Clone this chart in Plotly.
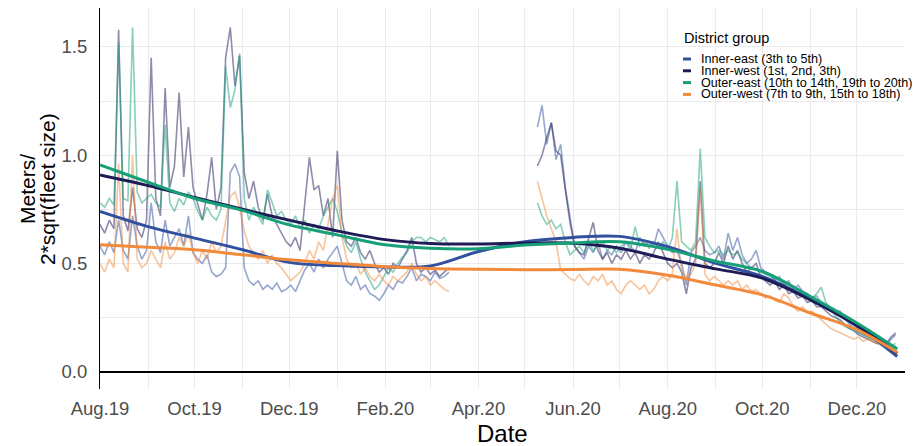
import pandas as pd
import plotly.graph_objects as go


GROUPS = [
    "Inner-east (3th to 5th)",
    "Inner-west (1st, 2nd, 3th)",
    "Outer-east (10th to 14th, 19th to 20th)",
    "Outer-west (7th to 9th, 15th to 18th)",
]
COLORS = ["#31519F", "#1E1B57", "#17A078", "#F28A3C"]

# Daily series, read off every third day. Two stretches: before and after
# the spring 2020 lockdown (no data in between).
PRE_START = "2019-08-01"
POST_START = "2020-05-09"

INNER_EAST_PRE = [
    0.58, 0.54, 0.60, 0.55, 0.70, 0.56, 0.52, 0.72, 0.58, 0.52,
    0.56, 0.78, 0.60, 0.55, 0.70, 0.58, 0.62, 0.66, 0.58, 0.72,
    0.55, 0.52, 0.50, 0.54, 0.46, 0.44, 0.45, 0.48, 0.92, 0.96,
    0.90, 0.48, 0.42, 0.40, 0.42, 0.38, 0.40, 0.38, 0.41, 0.37,
    0.38, 0.40, 0.37, 0.42, 0.47, 0.50, 0.46, 0.52, 0.48, 0.52,
    0.55, 0.58, 0.50, 0.42, 0.40, 0.44, 0.38, 0.40, 0.36, 0.35,
    0.33, 0.36, 0.40, 0.38, 0.42, 0.41, 0.44, 0.48, 0.42, 0.45,
    0.44, 0.42, 0.46, 0.43, 0.44, 0.46,
]
INNER_WEST_PRE = [
    0.68, 0.64, 0.70, 0.66, 1.58, 0.72, 0.65, 0.85, 0.66, 0.62,
    0.70, 1.45, 0.80, 0.72, 1.31, 0.85, 0.95, 1.29, 0.90, 1.13,
    0.85, 0.78, 0.70, 0.82, 0.99, 0.75, 0.85, 1.45, 1.59, 1.32,
    1.46, 0.92, 0.80, 0.88, 0.76, 0.70, 0.82, 0.72, 0.68, 0.64,
    0.60, 0.58, 0.62, 0.56, 0.78, 0.99, 0.84, 0.86, 0.72, 0.80,
    0.62, 1.02, 0.70, 0.60, 0.58, 0.62, 0.55, 0.52, 0.56, 0.50,
    0.46, 0.48, 0.45, 0.50, 0.48, 0.52, 0.56, 0.62, 0.50, 0.46,
    0.48, 0.45, 0.47, 0.44, 0.46, 0.48,
]
OUTER_EAST_PRE = [
    0.78, 0.76, 0.80, 0.77, 1.52, 0.80, 0.79, 1.59, 0.83, 0.78,
    0.80, 0.82, 0.78, 0.76, 1.14, 0.78, 0.74, 0.80, 0.77, 0.83,
    0.80, 0.74, 0.70, 0.76, 0.72, 0.70, 0.75, 1.41, 1.22, 1.30,
    1.47, 0.80, 0.70, 0.76, 0.72, 0.68, 0.84, 0.78, 0.72, 0.74,
    0.70, 0.68, 0.72, 0.66, 0.70, 0.64, 0.68, 0.66, 0.72, 0.76,
    0.80, 0.74, 0.64, 0.58, 0.55, 0.60, 0.52, 0.46, 0.42, 0.38,
    0.40, 0.44, 0.48, 0.46, 0.50, 0.53, 0.55, 0.60, 0.62, 0.62,
    0.60, 0.62, 0.61, 0.60, 0.62, 0.58,
]
OUTER_WEST_PRE = [
    0.50, 0.46, 0.52, 0.48, 0.96, 0.50, 0.46, 1.00, 0.52, 0.48,
    0.50, 0.56, 0.52, 0.48, 0.60, 0.52, 0.55, 0.62, 0.58, 0.64,
    0.55, 0.50, 0.56, 0.52, 0.60, 0.55, 0.58, 0.70, 0.81, 0.83,
    0.76, 0.65, 0.58, 0.55, 0.52, 0.56, 0.50, 0.54, 0.50, 0.48,
    0.45, 0.42, 0.44, 0.46, 0.50, 0.56, 0.52, 0.60, 0.56, 0.68,
    0.80, 0.86, 0.62, 0.52, 0.48, 0.50, 0.45, 0.48, 0.44, 0.42,
    0.45, 0.42, 0.40, 0.44, 0.42, 0.44, 0.46, 0.50, 0.45, 0.42,
    0.44, 0.40, 0.42, 0.40, 0.38, 0.37,
]

INNER_EAST_POST = [
    1.13, 1.23, 1.05, 1.15, 0.98, 1.05, 0.85, 0.72, 0.58, 0.55,
    0.52, 0.58, 0.55, 0.60, 0.52, 0.56, 0.54, 0.58, 0.55, 0.60,
    0.58, 0.55, 0.62, 0.58, 0.60, 0.58, 0.66, 0.62, 0.58, 0.55,
    0.56, 0.50, 0.40, 0.55, 0.58, 0.62, 0.56, 0.54, 0.55, 0.58,
    0.52, 0.64, 0.56, 0.62, 0.54, 0.50, 0.52, 0.56, 0.48, 0.46,
    0.45, 0.42, 0.44, 0.40, 0.42, 0.38, 0.40, 0.37, 0.36, 0.34,
    0.35, 0.32, 0.30, 0.28, 0.27, 0.28, 0.25, 0.22, 0.20, 0.18,
    0.17, 0.16, 0.15, 0.14, 0.13, 0.12, 0.15, 0.17,
]
INNER_WEST_POST = [
    0.95, 1.00, 1.08, 1.15, 1.02, 1.00, 0.84, 0.69, 0.58, 0.55,
    0.54, 0.62, 0.69, 0.56, 0.52, 0.55, 0.50, 0.54, 0.52, 0.56,
    0.52, 0.55, 0.50, 0.54, 0.52, 0.55, 0.60, 0.55, 0.50, 0.48,
    0.50, 0.46, 0.36, 0.48, 0.52, 0.88, 0.50, 0.48, 0.50, 0.55,
    0.50, 0.58, 0.52, 0.56, 0.50, 0.46, 0.48, 0.50, 0.44, 0.42,
    0.40, 0.42, 0.38, 0.40, 0.36, 0.37, 0.34, 0.35, 0.32, 0.33,
    0.30, 0.30, 0.28, 0.26, 0.25, 0.24, 0.22, 0.20, 0.19, 0.17,
    0.16, 0.15, 0.14, 0.13, 0.14, 0.13, 0.16, 0.18,
]
OUTER_EAST_POST = [
    0.78, 0.72, 0.68, 0.70, 0.66, 0.68, 0.60, 0.54, 0.56, 0.58,
    0.55, 0.60, 0.56, 0.58, 0.60, 0.56, 0.58, 0.55, 0.58, 0.60,
    0.56, 0.67, 0.58, 0.60, 0.57, 0.60, 0.58, 0.60, 0.56, 0.62,
    0.88, 0.60, 0.58, 0.56, 0.60, 1.03, 0.62, 0.58, 0.55, 0.56,
    0.54, 0.56, 0.54, 0.55, 0.52, 0.50, 0.48, 0.47, 0.46, 0.45,
    0.44, 0.43, 0.42, 0.40, 0.38, 0.37, 0.36, 0.37, 0.35, 0.34,
    0.36, 0.39, 0.32, 0.29, 0.26, 0.23, 0.21, 0.20, 0.19, 0.18,
    0.17, 0.16, 0.15, 0.15, 0.14, 0.13, 0.12, 0.13,
]
OUTER_WEST_POST = [
    0.88, 0.80, 0.72, 0.66, 0.60, 0.47, 0.45, 0.43, 0.42, 0.45,
    0.42, 0.40, 0.44, 0.42, 0.45, 0.40, 0.42, 0.38, 0.36, 0.40,
    0.42, 0.40, 0.38, 0.40, 0.36, 0.38, 0.42, 0.44, 0.42, 0.45,
    0.66, 0.46, 0.44, 0.45, 0.50, 0.84, 0.45, 0.42, 0.44, 0.42,
    0.40, 0.42, 0.40, 0.42, 0.38, 0.40, 0.37, 0.38, 0.36, 0.34,
    0.35, 0.33, 0.32, 0.36, 0.34, 0.30, 0.28, 0.30, 0.27, 0.28,
    0.26, 0.24, 0.22, 0.20, 0.19, 0.18, 0.17, 0.16, 0.15, 0.16,
    0.14, 0.15, 0.14, 0.13, 0.12, 0.12, 0.11, 0.12,
]

# Smoothed trend per group, read at the start of each month
TREND_DATES = [
    "2019-08-01", "2019-09-01", "2019-10-01", "2019-11-01", "2019-12-01",
    "2020-01-01", "2020-02-01", "2020-03-01", "2020-04-01", "2020-05-01",
    "2020-06-01", "2020-07-01", "2020-08-01", "2020-09-01", "2020-10-01",
    "2020-11-01", "2020-12-01", "2020-12-27",
]
INNER_EAST_TREND = [
    0.740, 0.670, 0.617, 0.563, 0.505, 0.490, 0.484, 0.488, 0.555,
    0.600, 0.620, 0.625, 0.577, 0.500, 0.440, 0.335, 0.210, 0.070,
]
INNER_WEST_TREND = [
    0.909, 0.860, 0.805, 0.750, 0.700, 0.650, 0.610, 0.592, 0.590,
    0.594, 0.593, 0.570, 0.520, 0.475, 0.432, 0.332, 0.214, 0.085,
]
OUTER_EAST_TREND = [
    0.955, 0.875, 0.800, 0.745, 0.678, 0.632, 0.586, 0.570, 0.568,
    0.585, 0.595, 0.600, 0.565, 0.510, 0.463, 0.347, 0.225, 0.105,
]
OUTER_WEST_TREND = [
    0.586, 0.575, 0.563, 0.540, 0.517, 0.500, 0.485, 0.477, 0.473,
    0.471, 0.472, 0.473, 0.445, 0.400, 0.355, 0.271, 0.194, 0.089,
]

FONT = "Liberation Sans, Arial, sans-serif"
GRID = "#EBEBEB"
TICK_GREY = "#4D4D4D"

# Plot area in page pixels, used to place the hand-built legend and titles.
# The page body adds an 8px margin, so the figure itself is 8px smaller.
PAGE_PAD = 8
PLOT_L, PLOT_R, PLOT_T, PLOT_B = 100, 905, 8, 389


def px_x(x):
    return (x - PLOT_L) / (PLOT_R - PLOT_L)


def px_y(y):
    return (PLOT_B - y) / (PLOT_B - PLOT_T)


pre_dates = list(pd.date_range(PRE_START, periods=len(INNER_EAST_PRE), freq="3D"))
post_dates = list(pd.date_range(POST_START, periods=len(INNER_EAST_POST), freq="3D"))
# a single empty point breaks the lines over the lockdown gap
daily_x = pre_dates + [pd.Timestamp("2020-04-10")] + post_dates

daily = [
    (INNER_EAST_PRE, INNER_EAST_POST),
    (INNER_WEST_PRE, INNER_WEST_POST),
    (OUTER_EAST_PRE, OUTER_EAST_POST),
    (OUTER_WEST_PRE, OUTER_WEST_POST),
]
trends = [INNER_EAST_TREND, INNER_WEST_TREND, OUTER_EAST_TREND, OUTER_WEST_TREND]

fig = go.Figure()

# Raw daily lines first, faded, so the trends sit on top
for name, color, (pre, post) in zip(GROUPS, COLORS, daily):
    fig.add_trace(
        go.Scatter(
            x=daily_x,
            y=pre + [None] + post,
            mode="lines",
            name=name,
            line=dict(color=color, width=1.6),
            opacity=0.5,
            connectgaps=False,
            showlegend=False,
            hoverinfo="skip",
        )
    )

for name, color, trend in zip(GROUPS, COLORS, trends):
    fig.add_trace(
        go.Scatter(
            x=TREND_DATES,
            y=trend,
            mode="lines",
            name=name,
            line=dict(color=color, width=3, shape="spline", smoothing=1.0),
            showlegend=False,
        )
    )

# Legend drawn by hand so the rows sit as tight as in the original
shapes = []
annotations = []
for top, bottom in [(31, 44), (50, 102)]:
    shapes.append(dict(
        type="rect", xref="paper", yref="paper", layer="between",
        x0=px_x(678), x1=px_x(905), y0=px_y(bottom), y1=px_y(top),
        fillcolor="white", line=dict(width=0),
    ))
annotations.append(dict(
    text="District group", xref="paper", yref="paper",
    x=px_x(682), y=px_y(38), xanchor="left", yanchor="middle",
    showarrow=False, font=dict(family=FONT, size=14.5, color="black"),
))
for row, (name, color) in enumerate(zip(GROUPS, COLORS)):
    y_mid = 59 + row * 11.8
    shapes.append(dict(
        type="line", xref="paper", yref="paper", layer="above",
        x0=px_x(683), x1=px_x(691), y0=px_y(y_mid), y1=px_y(y_mid),
        line=dict(color=color, width=3),
    ))
    annotations.append(dict(
        text=name, xref="paper", yref="paper",
        x=px_x(700), y=px_y(y_mid), xanchor="left", yanchor="middle",
        showarrow=False, borderpad=0,
        font=dict(family=FONT, size=12.6, color="black"),
    ))

# Axis titles
annotations.append(dict(
    text="Date", xref="paper", yref="paper", x=0.5, y=px_y(433),
    xanchor="center", yanchor="middle", showarrow=False,
    font=dict(family=FONT, size=24, color="black"),
))
for x_mid, line in [(27, "Meters/"), (47, "2*sqrt(fleet size)")]:
    annotations.append(dict(
        text=line, xref="paper", yref="paper", x=px_x(x_mid), y=px_y(189),
        xanchor="center", yanchor="middle", textangle=-90, showarrow=False,
        font=dict(family=FONT, size=21, color="black"),
    ))

fig.update_xaxes(
    type="date",
    range=["2019-08-01", "2021-01-01"],
    tick0="2019-08-01",
    dtick="M2",
    tickformat="%b.%y",
    tickfont=dict(family=FONT, size=18.5, color=TICK_GREY),
    ticklabelstandoff=6,
    showgrid=True,
    gridcolor=GRID,
    gridwidth=1.4,
    minor=dict(dtick="M1", showgrid=True, gridcolor=GRID, gridwidth=1.1),
    showline=False,
    zeroline=False,
)
fig.update_yaxes(
    range=[-0.08, 1.68],
    tick0=0,
    dtick=0.5,
    tickformat=".1f",
    tickfont=dict(family=FONT, size=18.5, color=TICK_GREY),
    ticklabelstandoff=8,
    showgrid=True,
    gridcolor=GRID,
    gridwidth=1.4,
    minor=dict(dtick=0.25, showgrid=True, gridcolor=GRID, gridwidth=1.1),
    showline=True,
    linecolor="black",
    linewidth=1.2,
    zeroline=True,
    zerolinecolor="black",
    zerolinewidth=2,
)

fig.update_layout(
    width=920 - PAGE_PAD,
    height=446 - PAGE_PAD,
    margin=dict(
        l=PLOT_L - PAGE_PAD,
        r=920 - PLOT_R,
        t=PLOT_T - PAGE_PAD,
        b=446 - PLOT_B,
    ),
    plot_bgcolor="white",
    paper_bgcolor="white",
    showlegend=False,
    shapes=shapes,
    annotations=annotations,
    font=dict(family=FONT),
)

fig.write_html("out.html")
